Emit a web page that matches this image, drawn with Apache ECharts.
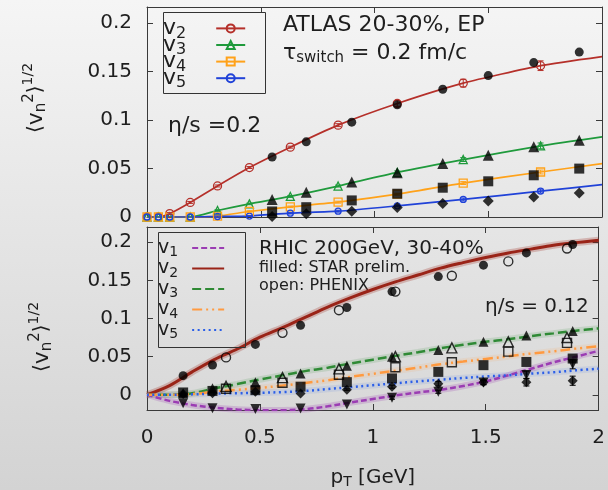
<!DOCTYPE html>
<html><head><meta charset="utf-8">
<script src="https://cdn.jsdelivr.net/npm/echarts@6/dist/echarts.min.js"></script>
<style>
html,body{margin:0;padding:0;}
body{width:608px;height:490px;background:linear-gradient(#f5f5f5,#d3d3d3);overflow:hidden;}
#c{width:608px;height:490px;}
</style></head><body><div id="c"></div>
<script>
// ---------- top panel: ATLAS 20-30%, EP, eta/s = 0.2 ----------
const topModelPt = [0, 0.05, 0.1, 0.19, 0.31, 0.45, 0.63, 0.84, 1.1, 1.39, 1.73, 2.0];
const topModelV2 = [0, 0, 0.0035, 0.015, 0.032, 0.051, 0.072, 0.0947, 0.117, 0.138, 0.156, 0.1654];
const topModelV3 = [0, 0, 0, 0, 0.0067, 0.0135, 0.0212, 0.0319, 0.046, 0.0592, 0.0733, 0.0826];
const topModelV4 = [0, 0, 0, 0, 0.001, 0.0057, 0.0105, 0.0153, 0.0235, 0.035, 0.0464, 0.055];
const topModelV5 = [0, 0, 0, 0, 0.0005, 0.001, 0.0039, 0.006, 0.0115, 0.0181, 0.0267, 0.0333];
const topModelErrV2 = [0, 0, 0.001, 0.001, 0.001, 0.001, 0.001, 0.0015, 0.003, 0.004, 0.005, 0];
const topModelErrV3 = [0, 0, 0, 0, 0.0008, 0.0008, 0.001, 0.001, 0.0015, 0.002, 0.003, 0];
const topModelErrV4 = [0, 0, 0, 0, 0.0008, 0.0008, 0.0008, 0.001, 0.001, 0.0015, 0.002, 0];
const topModelErrV5 = [0, 0, 0, 0, 0.0005, 0.0005, 0.0008, 0.001, 0.001, 0.0015, 0.002, 0];

const atlasPt = [0.55, 0.70, 0.90, 1.10, 1.30, 1.50, 1.70, 1.90];
const atlasV2 = [0.0619, 0.0775, 0.0978, 0.1157, 0.1317, 0.1458, 0.1592, 0.170];
const atlasV3 = [0.018, 0.0255, 0.036, 0.0457, 0.0551, 0.0637, 0.0723, 0.0792];
const atlasV4 = [0.0057, 0.0101, 0.0171, 0.024, 0.0302, 0.0368, 0.043, 0.0499];
const atlasV5 = [0.0005, 0.0033, 0.006, 0.0097, 0.0138, 0.0166, 0.0207, 0.0248];

// ---------- bottom panel: RHIC 200GeV, 30-40%, eta/s = 0.12 ----------
const rhicPt = [0, 0.1, 0.2, 0.3, 0.4, 0.5, 0.6, 0.7, 0.8, 0.9, 1.0, 1.1, 1.2, 1.3, 1.4, 1.5, 1.6, 1.7, 1.8, 1.9, 2.0];
const rhicV1 = [0, -0.008, -0.0135, -0.017, -0.0193, -0.0202, -0.0202, -0.019, -0.0152, -0.0103, -0.0055, -0.001, 0.003, 0.0065, 0.0115, 0.0175, 0.0255, 0.034, 0.0425, 0.05, 0.0576];
const rhicV2 = [0, 0.012, 0.030, 0.0465, 0.060, 0.0755, 0.088, 0.1015, 0.115, 0.127, 0.138, 0.148, 0.157, 0.166, 0.1733, 0.18, 0.186, 0.191, 0.196, 0.1995, 0.2027];
const rhicV3 = [0, 0, 0.002, 0.0085, 0.014, 0.020, 0.0255, 0.031, 0.0355, 0.041, 0.046, 0.051, 0.0558, 0.061, 0.0655, 0.0695, 0.0728, 0.077, 0.0805, 0.084, 0.087];
const rhicV4 = [0, 0, 0.001, 0.004, 0.0065, 0.009, 0.012, 0.0155, 0.019, 0.0235, 0.0275, 0.0315, 0.0355, 0.040, 0.0435, 0.047, 0.0503, 0.054, 0.057, 0.0605, 0.0635];
const rhicV5 = [0, 0, 0.0005, 0.0015, 0.002, 0.0025, 0.0035, 0.005, 0.0075, 0.010, 0.0125, 0.015, 0.0175, 0.0198, 0.022, 0.024, 0.0255, 0.0278, 0.0295, 0.032, 0.0341];

const starPt = [0.16, 0.29, 0.48, 0.68, 0.885, 1.085, 1.29, 1.49, 1.68, 1.885];
const starV1 = [-0.011, -0.0177, -0.0188, -0.018, -0.0129, -0.0039, 0.0039, 0.016, 0.026, 0.040];
const starV2 = [0.025, 0.039, 0.066, 0.091, 0.1145, 0.1353, 0.155, 0.170, 0.186, 0.197];
const starV3 = [0.002, 0.0086, 0.0165, 0.028, 0.038, 0.0498, 0.0588, 0.0694, 0.0778, 0.0835];
const starV4 = [0.003, 0.005, 0.006, 0.0106, 0.0165, 0.0214, 0.030, 0.0388, 0.043, 0.0475];
const starV5 = [0.001, 0.002, 0.004, 0.0015, 0.0067, 0.0106, 0.0145, 0.0165, 0.0165, 0.0184];
const starErrV1 = [0, 0, 0, 0, 0, 0.002, 0.002, 0.003, 0.005, 0.006];
const starErrV5 = [0, 0, 0, 0, 0.001, 0.002, 0.003, 0.003, 0.005, 0.006];

const phenixPt = [0.35, 0.60, 0.85, 1.10, 1.35, 1.60, 1.86];
const phenixV2 = [0.049, 0.0812, 0.1109, 0.1353, 0.156, 0.1749, 0.1918];
const phenixV3 = [0.011, 0.0224, 0.034, 0.050, 0.0615, 0.0694, 0.075];
const phenixV4 = [0.0079, 0.0157, 0.0262, 0.0361, 0.0427, 0.0565, 0.068];

const yTicks = [0, 0.05, 0.1, 0.15, 0.2];

// ---------- building ----------
const FONT = 'DejaVu Sans';
const TXT = '#1e1e1e';
const AX = '#3a3a3a';
const zip = (xs, ys) => xs.map((x, i) => [x, ys[i]]);

const C_TOP = {v2: '#b5302a', v3: '#1f9a3c', v4: '#ffa21a', v5: '#2042d8'};
const C_BOT = {v1: '#9b3db3', v2: '#9a2418', v3: '#2f8a35', v4: '#ff9a40', v5: '#2a5ee8'};

function errSeries(xi, yi, pts, vals, errs, color) {
  const data = [];
  pts.forEach((x, i) => { if (errs[i] > 0) data.push([x, vals[i] - errs[i], vals[i] + errs[i]]); });
  return {
    type: 'custom', xAxisIndex: xi, yAxisIndex: yi, data, silent: true, z: 4,
    encode: {x: 0, y: [1, 2]},
    renderItem(params, api) {
      const x = api.value(0);
      const lo = api.coord([x, api.value(1)]);
      const hi = api.coord([x, api.value(2)]);
      const w = 3;
      const st = {stroke: color, lineWidth: 1};
      return {type: 'group', children: [
        {type: 'line', shape: {x1: lo[0], y1: lo[1], x2: hi[0], y2: hi[1]}, style: st},
        {type: 'line', shape: {x1: lo[0] - w, y1: lo[1], x2: lo[0] + w, y2: lo[1]}, style: st},
        {type: 'line', shape: {x1: hi[0] - w, y1: hi[1], x2: hi[0] + w, y2: hi[1]}, style: st}
      ]};
    }
  };
}

function topModel(name, vals, errs, color, symbol, size) {
  const data = topModelPt.map((x, i) => i === topModelPt.length - 1 ? {value: [x, vals[i]], symbol: 'none'} : [x, vals[i]]);
  return [{
    name, type: 'line', xAxisIndex: 0, yAxisIndex: 0, data, symbol, symbolSize: size,
    showAllSymbol: true, smooth: 0.2, z: 3,
    lineStyle: {color, width: 1.7},
    itemStyle: {color: 'rgba(0,0,0,0)', borderColor: color, borderWidth: 1.3},
    emphasis: {disabled: true}
  }, errSeries(0, 0, topModelPt, vals, errs, color)];
}

function dataScatter(xi, yi, pts, vals, symbol, size, open, rotate) {
  return {
    type: 'scatter', xAxisIndex: xi, yAxisIndex: yi, data: zip(pts, vals), symbol, symbolSize: size,
    symbolRotate: rotate || 0, z: 5, silent: true,
    itemStyle: open ? {color: 'rgba(0,0,0,0)', borderColor: '#000', borderWidth: 1.4} : {color: '#000'}
  };
}

function botCurve(name, vals, color, width, dash, bandOpacity) {
  return [{
    type: 'line', xAxisIndex: 2, yAxisIndex: 2, data: zip(rhicPt, vals), symbol: 'none', smooth: 0.35,
    silent: true, z: 1, lineStyle: {color, width: width + 4, opacity: bandOpacity}
  }, {
    name, type: 'line', xAxisIndex: 2, yAxisIndex: 2, data: zip(rhicPt, vals), symbol: 'none', smooth: 0.35,
    z: 2, lineStyle: {color, width, type: dash, cap: 'butt'}, itemStyle: {color},
    emphasis: {disabled: true}
  }];
}

const series = [
  ...topModel('v2', topModelV2, topModelErrV2, C_TOP.v2, 'circle', 8),
  ...topModel('v3', topModelV3, topModelErrV3, C_TOP.v3, 'triangle', 8),
  ...topModel('v4', topModelV4, topModelErrV4, C_TOP.v4, 'rect', 8),
  ...topModel('v5', topModelV5, topModelErrV5, C_TOP.v5, 'circle', 6),
  dataScatter(0, 0, atlasPt, atlasV2, 'circle', 9),
  dataScatter(0, 0, atlasPt, atlasV3, 'triangle', 11),
  dataScatter(0, 0, atlasPt, atlasV4, 'rect', 10),
  dataScatter(0, 0, atlasPt, atlasV5, 'diamond', 11),
  ...botCurve('R v1', rhicV1, C_BOT.v1, 2.5, [6, 3], 0.22),
  ...botCurve('R v2', rhicV2, C_BOT.v2, 3, 'solid', 0.25),
  ...botCurve('R v3', rhicV3, C_BOT.v3, 2.5, [9, 4], 0.15),
  ...botCurve('R v4', rhicV4, C_BOT.v4, 2.5, [10, 4, 2, 4, 2, 4], 0.12),
  ...botCurve('R v5', rhicV5, C_BOT.v5, 2.5, [2, 3.5], 0.1),
  dataScatter(2, 2, starPt, starV1, 'triangle', 10, false, 180),
  dataScatter(2, 2, starPt, starV2, 'circle', 9),
  dataScatter(2, 2, starPt, starV3, 'triangle', 10),
  dataScatter(2, 2, starPt, starV4, 'rect', 10),
  dataScatter(2, 2, starPt, starV5, 'diamond', 10),
  errSeries(2, 2, starPt, starV1, starErrV1, '#000'),
  errSeries(2, 2, starPt, starV5, starErrV5, '#000'),
  dataScatter(2, 2, phenixPt, phenixV2, 'circle', 9, true),
  dataScatter(2, 2, phenixPt, phenixV3, 'triangle', 10, true),
  dataScatter(2, 2, phenixPt, phenixV4, 'rect', 9, true)
];

function xAx(grid, pos, labels) {
  return {
    type: 'value', gridIndex: grid, position: pos, min: 0, max: 2, interval: 0.5,
    axisLine: {show: true, onZero: false, lineStyle: {color: AX, width: 1}},
    axisTick: {show: true, inside: true, length: 6, lineStyle: {color: AX}},
    axisLabel: {show: labels, fontFamily: FONT, fontSize: 20, color: TXT, margin: 18},
    splitLine: {show: false}
  };
}
function yAx(grid, pos, min, max, labels) {
  return {
    type: 'value', gridIndex: grid, position: pos, min, max,
    axisLine: {show: true, onZero: false, lineStyle: {color: AX, width: 1}},
    axisTick: {show: true, inside: true, length: 6, lineStyle: {color: AX}, customValues: yTicks},
    axisLabel: {show: labels, fontFamily: FONT, fontSize: 20, color: TXT, margin: 15, customValues: yTicks},
    splitLine: {show: false}
  };
}

const xAxes = [xAx(0, 'bottom', false), xAx(0, 'top', false), xAx(1, 'bottom', true), xAx(1, 'top', false)];
xAxes[2].name = '{p|p}{t|T}{g| [GeV]}';
xAxes[2].nameLocation = 'middle';
xAxes[2].nameGap = 56;
xAxes[2].nameTextStyle = {rich: {
  p: {fontFamily: FONT, fontSize: 20, color: TXT},
  t: {fontFamily: FONT, fontSize: 14, color: TXT, padding: [9, 0, 0, 0]},
  g: {fontFamily: FONT, fontSize: 20, color: TXT}
}};

const legendRich = (big, small, padTop, padRight) => ({
  v: {fontFamily: FONT, fontSize: big, color: TXT},
  s: {fontFamily: FONT, fontSize: small, color: TXT, padding: [padTop, padRight, 0, 0]}
});

const legends = [{
  data: ['v2', 'v3', 'v4', 'v5'], orient: 'vertical', left: 163, top: 17.4, align: 'right',
  itemWidth: 29, itemHeight: 10, itemGap: -7.4, selectedMode: false,
  padding: 0, borderWidth: 0, backgroundColor: 'rgba(0,0,0,0)',
  formatter: n => '{v|v}{s|' + n.slice(-1) + '}',
  textStyle: {rich: legendRich(22, 16, 10, 25)}
}, {
  data: ['R v1', 'R v2', 'R v3', 'R v4', 'R v5'], orient: 'vertical', left: 158, top: 238.4, align: 'right',
  itemWidth: 32, itemHeight: 10, itemGap: -0.5, selectedMode: false,
  padding: 0, borderWidth: 0, backgroundColor: 'rgba(0,0,0,0)',
  itemStyle: {color: 'rgba(0,0,0,0)', borderWidth: 0},
  formatter: n => '{v|v}{s|' + n.slice(-1) + '}',
  textStyle: {rich: legendRich(19, 14, 9, 9)}
}];

const t = (x, y, text, size) => ({
  type: 'text', x, y, silent: true,
  style: {text, fontFamily: FONT, fontSize: size, fill: TXT, align: 'left', verticalAlign: 'middle'}
});

const yTitle = (x, y) => ({
  type: 'text', x, y, rotation: Math.PI / 2, silent: true,
  style: {
    text: '{b|⟨}{v|v}{n|n}{p|2}{b|⟩}{q|1/2}', align: 'center', verticalAlign: 'middle',
    rich: {
      b: {fontFamily: FONT, fontSize: 20, fill: TXT},
      v: {fontFamily: FONT, fontSize: 22, fill: TXT},
      n: {fontFamily: FONT, fontSize: 15, fill: TXT, padding: [11, 0, 0, 0]},
      p: {fontFamily: FONT, fontSize: 15, fill: TXT, padding: [0, 0, 13, 0]},
      q: {fontFamily: FONT, fontSize: 14, fill: TXT, padding: [0, 0, 15, 0]}
    }
  }
});

const box = (x, y, w, h) => ({
  type: 'rect', silent: true, z: 10,
  shape: {x: x + 0.5, y: y + 0.5, width: w, height: h},
  style: {fill: 'rgba(0,0,0,0)', stroke: '#333', lineWidth: 1}
});

const graphic = [
  box(163, 12, 102, 81),
  box(158, 232, 87, 115),
  t(283, 25, 'ATLAS 20-30%, EP', 22),
  {type: 'text', x: 283, y: 53, silent: true, style: {
    text: '{a|τ}{s|switch}{a| = 0.2 fm/c}', align: 'left', verticalAlign: 'middle',
    rich: {
      a: {fontFamily: FONT, fontSize: 22, fill: TXT},
      s: {fontFamily: FONT, fontSize: 15, fill: TXT, padding: [11, 0, 0, 0]}
    }}},
  t(168, 126, 'η/s =0.2', 22),
  t(259, 249, 'RHIC 200GeV, 30-40%', 20),
  t(259, 268, 'filled: STAR prelim.', 16),
  t(259, 286, 'open: PHENIX', 16),
  t(485, 307, 'η/s = 0.12', 20),
  yTitle(36, 98),
  yTitle(42, 337)
];

const chart = echarts.init(document.getElementById('c'), null, {renderer: 'canvas'});
chart.setOption({
  animation: false,
  backgroundColor: 'transparent',
  textStyle: {fontFamily: FONT},
  grid: [
    {left: 147, top: 7, width: 455, height: 210},
    {left: 147, top: 227, width: 455, height: 204}
  ],
  xAxis: xAxes,
  yAxis: [yAx(0, 'left', 0, 0.2165, true), yAx(0, 'right', 0, 0.2165, false),
          yAx(1, 'left', -0.02, 0.22, true), yAx(1, 'right', -0.02, 0.22, false)],
  legend: legends,
  graphic,
  series
});
</script></body></html>
